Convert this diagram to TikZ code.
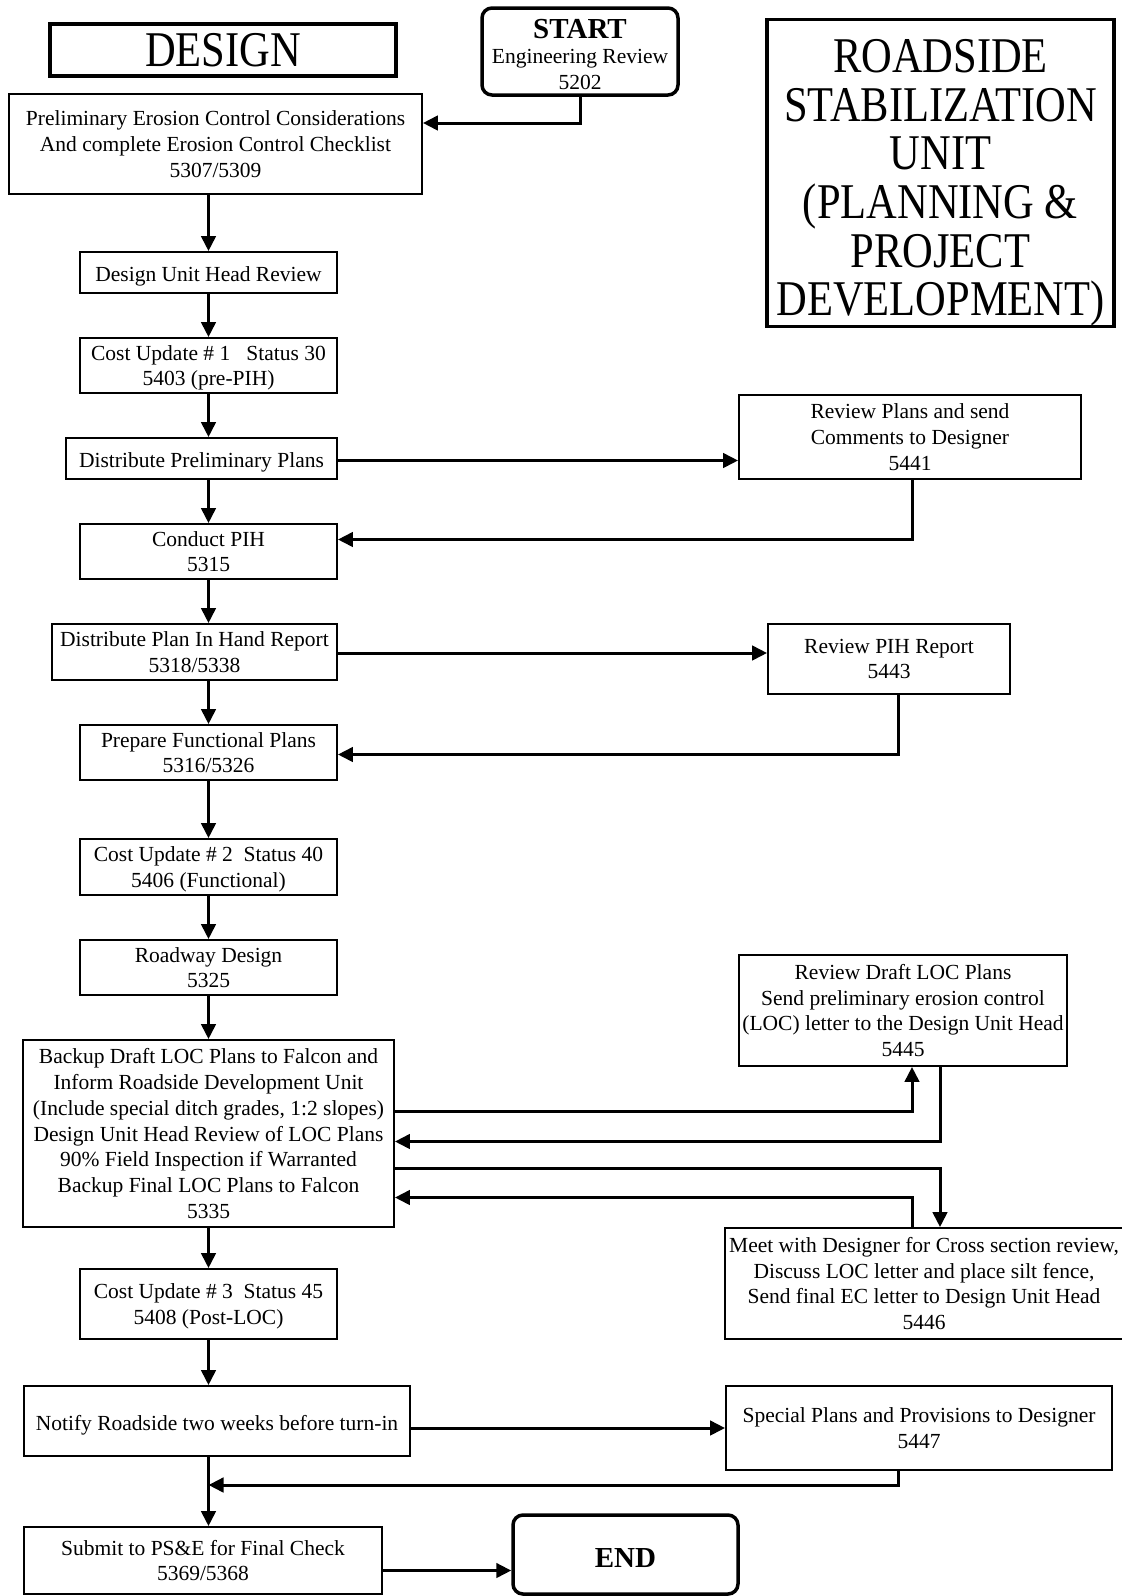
\documentclass[tikz,border=0pt]{standalone}
\usepackage{fontspec}
\setmainfont{Liberation Serif}
\newfontfamily\titlefont{Liberation Serif}[FakeStretch=0.85]
\usetikzlibrary{arrows.meta, positioning}
\newcommand{\bodysize}{\fontsize{21.5}{25.7}\selectfont}

\begin{document}
\begin{tikzpicture}[x=1pt, y=-1pt,
  box/.style={draw, line width=1.9pt, align=center, inner sep=0pt, font=\bodysize,
    text depth=-2pt, execute at begin node={\rule{0pt}{18pt}}},
  headbox/.style={draw, line width=3.5pt, align=center, inner sep=0pt,
    font=\titlefont\fontsize{50}{48.6}\selectfont},
  termbox/.style={draw, line width=3.5pt, rounded corners=10pt, align=center,
    inner sep=0pt, font=\bodysize},
  arr/.style={line width=3pt, -{Triangle[length=15pt,width=14.5pt]}}]
  \useasboundingbox (0,0) rectangle (1122,1596);

  % Judul
  \node[headbox, minimum width=346pt, minimum height=52pt] (design) at (223,50) {DESIGN};
  \node[headbox, minimum width=347pt, minimum height=304pt] (roadside) at (940.5,173)
    {\rule{0pt}{53pt}ROADSIDE\\STABILIZATION\\UNIT\\(PLANNING \&\\PROJECT\\DEVELOPMENT)};
  \node[termbox, minimum width=196pt, minimum height=87pt] (start) at (580,51.5)
    {\rule{0pt}{25pt}{\fontsize{29}{30}\selectfont\bfseries START}\\Engineering Review\\5202};
  \node[termbox, minimum width=225pt, minimum height=79pt] (finish) at (625.5,1554.5)
    {\rule{0pt}{27pt}\fontsize{29}{30}\selectfont\bfseries END};

  % Langkah desain (kolom kiri)
  \node[box, minimum width=413pt, minimum height=100pt] (prelim) at (215.5,144)
    {Preliminary Erosion Control Considerations\\And complete Erosion Control Checklist\\5307/5309};
  \node[box, minimum width=257pt, minimum height=41pt] (duhr) at (208.5,272.5)
    {Design Unit Head Review};
  \node[box, minimum width=257pt, minimum height=55pt] (cost1) at (208.5,365.5)
    {Cost Update \# 1~~~Status 30\\5403 (pre-PIH)};
  \node[box, minimum width=271pt, minimum height=41pt] (distprelim) at (201.5,458.5)
    {Distribute Preliminary Plans};
  \node[box, minimum width=257pt, minimum height=55pt] (conductpih) at (208.5,551.5)
    {Conduct PIH\\5315};
  \node[box, minimum width=285pt, minimum height=56pt] (distpih) at (194.5,652)
    {Distribute Plan In Hand Report\\5318/5338};
  \node[box, minimum width=257pt, minimum height=55pt] (prepfunc) at (208.5,752.5)
    {Prepare Functional Plans\\5316/5326};
  \node[box, minimum width=257pt, minimum height=56pt] (cost2) at (208.5,867)
    {Cost Update \# 2~~Status 40\\5406 (Functional)};
  \node[box, minimum width=257pt, minimum height=55pt] (roadway) at (208.5,967.5)
    {Roadway Design\\5325};
  \node[box, minimum width=371pt, minimum height=187pt] (backup) at (208.5,1133.5)
    {Backup Draft LOC Plans to Falcon and\\Inform Roadside Development Unit\\(Include special ditch grades, 1:2 slopes)\\Design Unit Head Review of LOC Plans\\90\% Field Inspection if Warranted\\Backup Final LOC Plans to Falcon\\5335};
  \node[box, minimum width=257pt, minimum height=70pt] (cost3) at (208.5,1304)
    {Cost Update \# 3~~Status 45\\5408 (Post-LOC)};
  \node[box, minimum width=386pt, minimum height=70pt] (notify) at (217,1421)
    {Notify Roadside two weeks before turn-in};
  \node[box, minimum width=358pt, minimum height=67pt] (submit) at (203,1560.5)
    {Submit to PS\&E for Final Check\\5369/5368};

  % Langkah roadside (kolom kanan)
  \node[box, minimum width=342pt, minimum height=84pt] (rev5441) at (910,437)
    {Review Plans and send\\Comments to Designer\\5441};
  \node[box, minimum width=242pt, minimum height=70pt] (rev5443) at (889,659)
    {Review PIH Report\\5443};
  \node[box, minimum width=328pt, minimum height=111pt] (rev5445) at (903,1010.5)
    {Review Draft LOC Plans\\Send preliminary erosion control\\(LOC) letter to the Design Unit Head\\5445};
  \node[box, minimum width=398pt, minimum height=111pt] (meet5446) at (924,1283.5)
    {Meet with Designer for Cross section review,\\Discuss LOC letter and place silt fence,\\Send final EC letter to Design Unit Head\\5446};
  \node[box, minimum width=386pt, minimum height=84pt] (spec5447) at (919,1428)
    {Special Plans and Provisions to Designer\\5447};

  % Panah utama
  \coordinate (col) at (208.5,0);
  \coordinate (merge) at (208.5,1485);
  \foreach \a/\b in {prelim/duhr, duhr/cost1, cost1/distprelim, distprelim/conductpih,
      conductpih/distpih, distpih/prepfunc, prepfunc/cost2, cost2/roadway,
      roadway/backup, backup/cost3, cost3/notify, notify/submit}
    \draw[arr] (\a.south -| col) -- (\b.north -| col);
  \draw[arr] (start.south) |- ([yshift=21pt]prelim.east);
  \draw[arr] ([yshift=-10pt]submit.east) -- ([yshift=-10pt]submit.east -| finish.west);

  % Panah ke dan dari roadside
  \draw[arr] ([yshift=-2pt]distprelim.east) -- ([yshift=-2pt]distprelim.east -| rev5441.west);
  \draw[arr] ([xshift=2pt]rev5441.south) |- ([yshift=12pt]conductpih.east);
  \draw[arr] ([yshift=-1pt]distpih.east) -- ([yshift=-1pt]distpih.east -| rev5443.west);
  \draw[arr] ([xshift=9pt]rev5443.south) |- ([yshift=-2pt]prepfunc.east);
  \draw[arr] ([yshift=22pt]backup.east) -| ([xshift=9pt]rev5445.south);
  \draw[arr] ([xshift=37pt]rev5445.south) |- ([yshift=-8pt]backup.east);
  \draw[arr] ([yshift=-35pt]backup.east) -| ([xshift=16pt]meet5446.north);
  \draw[arr] ([xshift=-12pt]meet5446.north) |- ([yshift=-64pt]backup.east);
  \draw[arr] (notify.east |- spec5447.west) -- (spec5447.west);
  \draw[arr] ([xshift=-21pt]spec5447.south) |- (merge);
\end{tikzpicture}
\end{document}
